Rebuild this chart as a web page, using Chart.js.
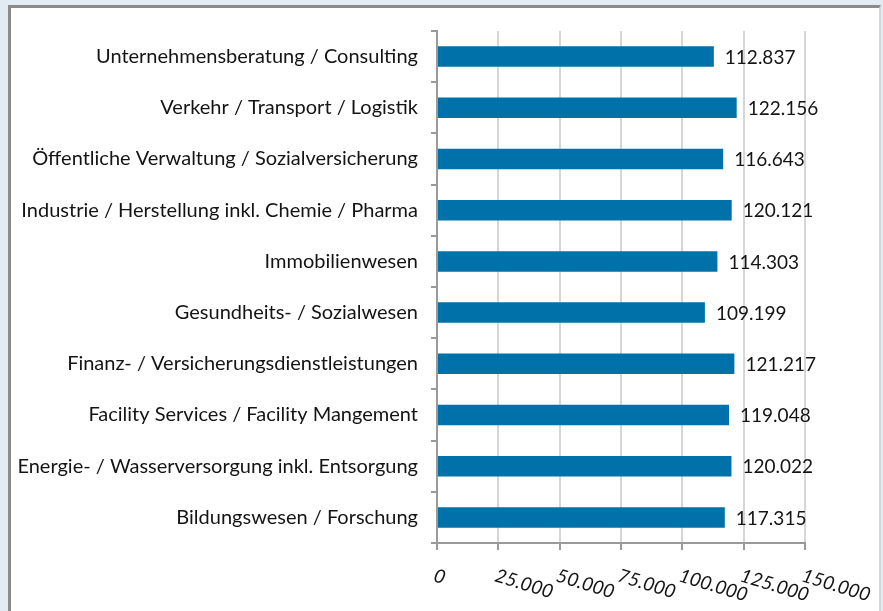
<!DOCTYPE html>
<html>
<head>
<meta charset="utf-8">
<script src="https://cdn.jsdelivr.net/npm/chart.js@4.4.1/dist/chart.umd.min.js"></script>
<style>
  html, body { margin: 0; padding: 0; background: #e3ebf2; width: 883px; height: 611px; overflow: hidden; }
  #panel { position: absolute; left: 8px; top: 5px; width: 873px; height: 620px; background: #ffffff;
           border-left: 3px solid #8a8a8a; border-top: 3px solid #8a8a8a; border-right: 2px solid #d6d6d6; box-sizing: border-box; }
  #wrap { position: absolute; left: 0; top: 0; width: 883px; height: 611px; }
</style>
</head>
<body>
<div id="panel"></div>
<div id="wrap"><canvas id="c" width="883" height="611"></canvas></div>
<script>
const categories = [
  "Unternehmensberatung / Consulting",
  "Verkehr / Transport / Logistik",
  "Öffentliche Verwaltung / Sozialversicherung",
  "Industrie / Herstellung inkl. Chemie / Pharma",
  "Immobilienwesen",
  "Gesundheits- / Sozialwesen",
  "Finanz- / Versicherungsdienstleistungen",
  "Facility Services / Facility Mangement",
  "Energie- / Wasserversorgung inkl. Entsorgung",
  "Bildungswesen / Forschung"
];
const values = [112837, 122156, 116643, 120121, 114303, 109199, 121217, 119048, 120022, 117315];
const xTickValues = [0, 25000, 50000, 75000, 100000, 125000, 150000];
const xTickLabels = ["0", "25.000", "50.000", "75.000", "100.000", "125.000", "150.000"];

const FONT = "Lato";
const TEXT = "#141414";

function fmt(v) { return String(v).replace(/\B(?=(\d{3})+(?!\d))/g, "."); }

const valueLabels = {
  id: "valueLabels",
  afterDatasetsDraw(chart) {
    const ctx = chart.ctx;
    const meta = chart.getDatasetMeta(0);
    ctx.save();
    ctx.font = "19px " + FONT;
    ctx.fillStyle = TEXT;
    ctx.textAlign = "left";
    ctx.textBaseline = "middle";
    meta.data.forEach((bar, i) => {
      ctx.fillText(fmt(values[i]), bar.x + 11, bar.y + 1);
    });
    ctx.restore();
  }
};

const rotatedXTicks = {
  id: "rotatedXTicks",
  afterDraw(chart) {
    const ctx = chart.ctx;
    const xs = chart.scales.x;
    const top = xs.top + 23;
    ctx.save();
    ctx.font = "italic 19px " + FONT;
    ctx.fillStyle = TEXT;
    ctx.textAlign = "left";
    ctx.textBaseline = "top";
    xTickValues.forEach((v, i) => {
      const px = xs.getPixelForValue(v);
      ctx.save();
      ctx.translate(px, top);
      ctx.rotate(17 * Math.PI / 180);
      ctx.fillText(xTickLabels[i], 0, 0);
      ctx.restore();
    });
    ctx.restore();
  }
};

new Chart(document.getElementById("c"), {
  type: "bar",
  data: {
    labels: categories,
    datasets: [{
      data: values,
      backgroundColor: "#0072a9",
      borderWidth: 0,
      barPercentage: 0.4,
      categoryPercentage: 1.0
    }]
  },
  options: {
    indexAxis: "y",
    responsive: false,
    animation: false,
    devicePixelRatio: 1,
    layout: { padding: { left: 0, top: 31, right: 78, bottom: 0 } },
    plugins: { legend: { display: false }, tooltip: { enabled: false } },
    scales: {
      x: {
        min: 0, max: 150000,
        afterBuildTicks(scale) { scale.ticks = xTickValues.map(v => ({ value: v })); },
        afterFit(scale) { scale.height = 68; },
        ticks: { display: false },
        grid: { color: "#d6d6d6", lineWidth: 2, tickColor: "#9a9a9a", tickLength: 7, drawTicks: true },
        border: { display: true, color: "#9a9a9a", width: 2 }
      },
      y: {
        afterFit(scale) { scale.width = 437; },
        ticks: { color: TEXT, font: { family: FONT, size: 20 }, padding: 13, autoSkip: false },
        grid: { drawOnChartArea: false, drawTicks: true, tickLength: 6, tickColor: "#9a9a9a", lineWidth: 2, offset: true },
        border: { display: true, color: "#9a9a9a", width: 2 }
      }
    }
  },
  plugins: [valueLabels, rotatedXTicks]
});
</script>
</body>
</html>
